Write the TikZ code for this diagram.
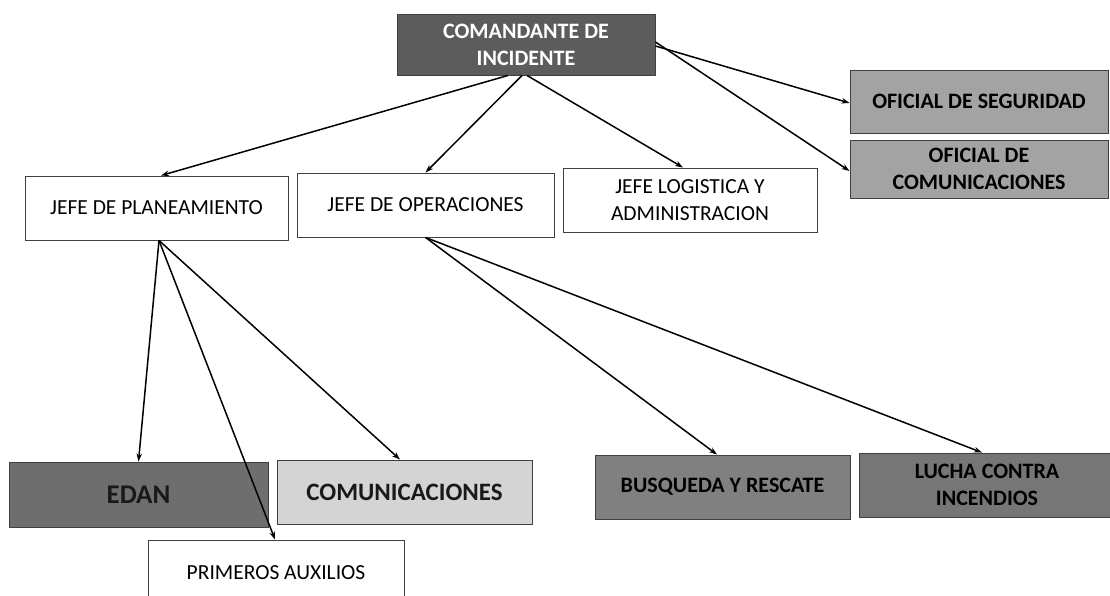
\documentclass[tikz,border=0pt]{standalone}
\usepackage{fontspec}
\setmainfont{Carlito}
\usetikzlibrary{arrows.meta}
\definecolor{cidark}{HTML}{5C5C5C}
\definecolor{ofgray}{HTML}{A3A3A3}
\definecolor{edangray}{HTML}{6E6E6E}
\definecolor{comgray}{HTML}{D4D4D4}
\definecolor{busgray}{HTML}{808080}
\definecolor{luchagray}{HTML}{767676}
\tikzset{
  box/.style={draw=black!75, line width=0.9pt, inner sep=2pt, align=center},
  whitebox/.style={box, fill=white, font=\fontsize{21.5}{27}\selectfont},
  graybox/.style={box, font=\bfseries\fontsize{22}{27}\selectfont},
  conn/.style={line width=1.5pt, -{Stealth[length=8pt,width=5.5pt]}},
}
\begin{document}
\begin{tikzpicture}[x=1pt,y=-1pt]
\clip (0,0) rectangle (1110,596);
\fill[white] (0,0) rectangle (1110,596);

\node[graybox, fill=cidark, text=white, minimum width=258pt, minimum height=61pt] (ci) at (526,44.5) {COMANDANTE DE\\INCIDENTE};
\node[graybox, fill=ofgray, minimum width=258pt, minimum height=63pt] (os) at (979,101.5) {OFICIAL DE SEGURIDAD};
\node[graybox, fill=ofgray, minimum width=258pt, minimum height=58pt] (oc) at (979,169) {OFICIAL DE\\COMUNICACIONES};

\node[whitebox, minimum width=263pt, minimum height=64pt] (jp) at (156.5,208) {JEFE DE PLANEAMIENTO};
\node[whitebox, minimum width=257pt, minimum height=64pt] (jo) at (425.5,205) {JEFE DE OPERACIONES};
\node[whitebox, minimum width=254pt, minimum height=64pt] (jl) at (690,200) {JEFE LOGISTICA Y\\ADMINISTRACION};

\node[graybox, fill=edangray, text=black!90, font=\bfseries\fontsize{27}{32}\selectfont, minimum width=259pt, minimum height=65pt] (edan) at (138.5,494.5) {EDAN};
\node[graybox, fill=comgray, text=black!90, font=\bfseries\fontsize{25}{30}\selectfont, minimum width=255pt, minimum height=64pt] (com) at (404.5,492) {COMUNICACIONES};
\node[whitebox, minimum width=256pt, minimum height=66pt] (pa) at (276,573) {PRIMEROS AUXILIOS};

\node[graybox, fill=busgray, text=black, minimum width=255pt, minimum height=64pt] (bus) at (722.5,487) {BUSQUEDA Y RESCATE};
\node[graybox, fill=luchagray, text=black, minimum width=256pt, minimum height=64pt] (lucha) at (987,485) {LUCHA CONTRA\\INCENDIOS};

\draw[conn] ([xshift=-18pt]ci.south) -- ([xshift=4.5pt]jp.north);
\draw[conn] ([xshift=-4pt]ci.south) -- (jo.north);
\draw[conn] ([xshift=1pt]ci.south) -- ([xshift=-7pt]jl.north);
\draw[conn] ([yshift=-1.5pt]ci.east) -- ([yshift=-1.5pt]os.west);
\draw[conn] ([yshift=2.5pt]ci.east) -- ([yshift=-2pt]oc.west);

\draw[conn] ([xshift=2.5pt]jp.south) -- (edan.north);
\draw[conn] ([xshift=2.5pt]jp.south) -- ([xshift=-1pt]pa.north);
\draw[conn] ([xshift=2.5pt]jp.south) -- ([xshift=-4.5pt]com.north);

\draw[conn] (jo.south) -- ([xshift=-5.5pt]bus.north);
\draw[conn] (jo.south) -- ([xshift=-5pt]lucha.north);
\end{tikzpicture}
\end{document}
